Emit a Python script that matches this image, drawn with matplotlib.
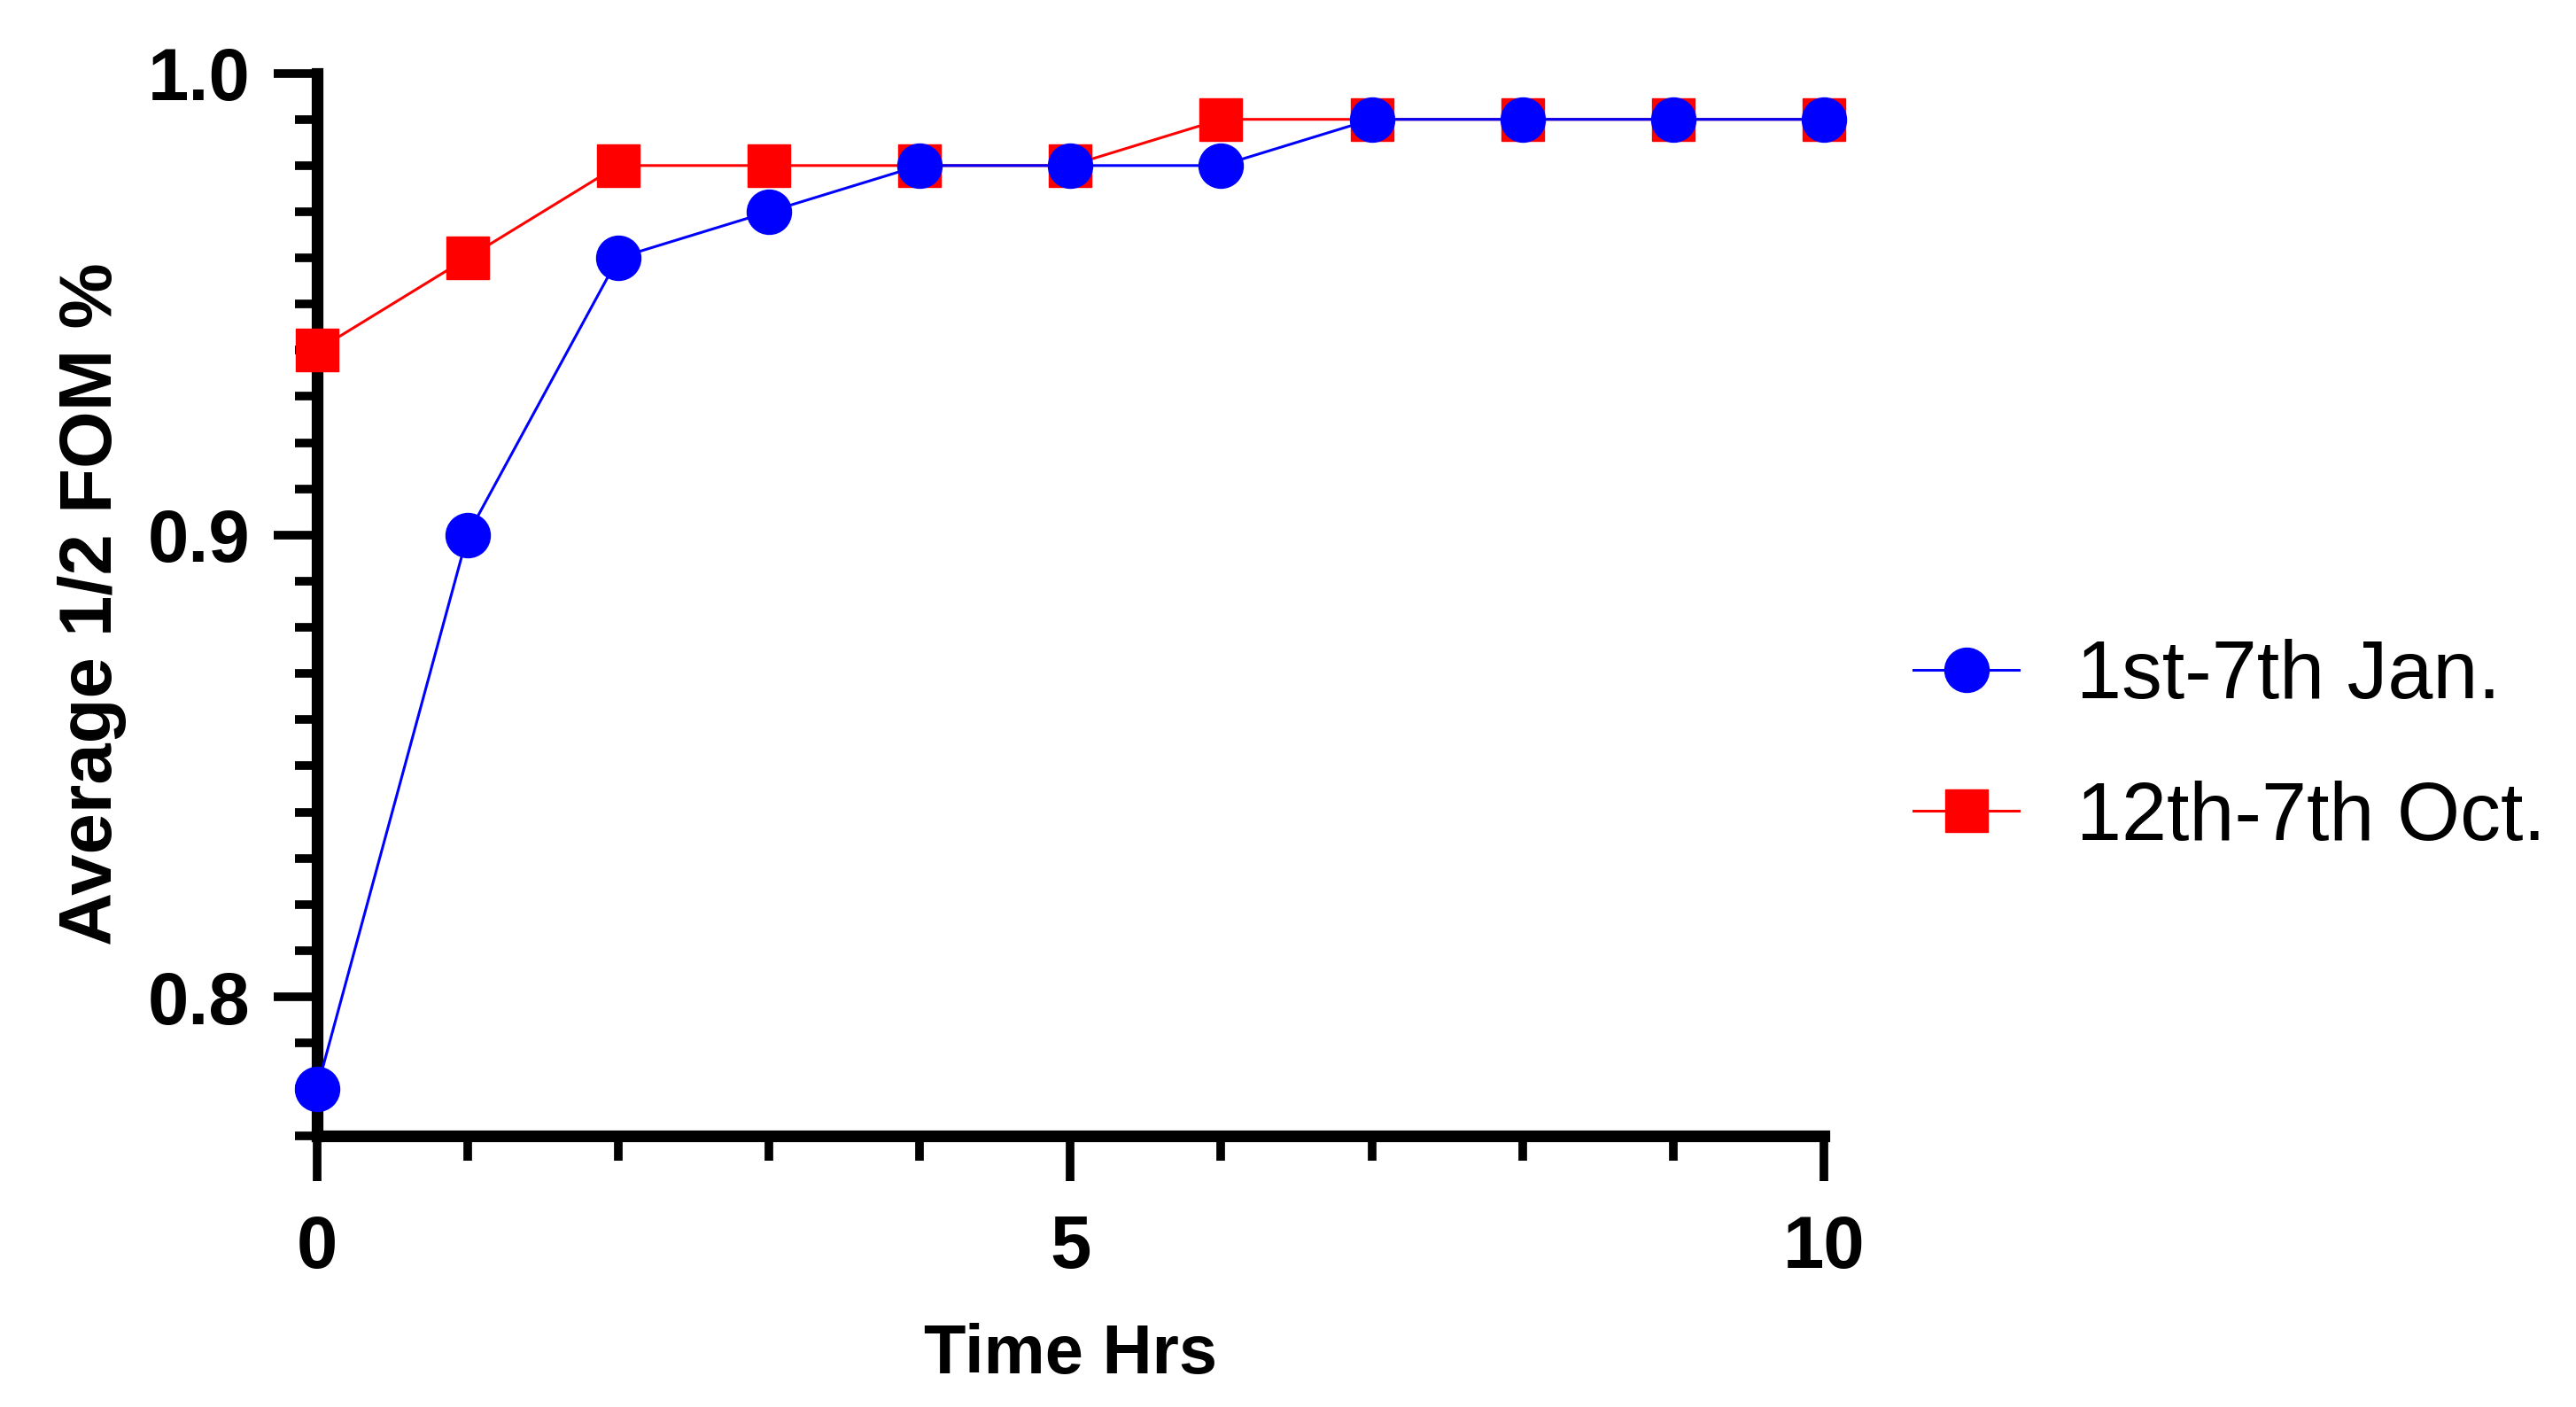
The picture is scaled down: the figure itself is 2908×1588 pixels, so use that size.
import matplotlib
matplotlib.use("Agg")
from matplotlib import pyplot as plt
from matplotlib.ticker import MultipleLocator, FormatStrFormatter

# data
hours = [0, 1, 2, 3, 4, 5, 6, 7, 8, 9, 10]
jan_fom = [0.78, 0.90, 0.96, 0.97, 0.98, 0.98, 0.98, 0.99, 0.99, 0.99, 0.99]
oct_fom = [0.94, 0.96, 0.98, 0.98, 0.98, 0.98, 0.99, 0.99, 0.99, 0.99, 0.99]
labels = ['1st-7th Jan.', '12th-7th Oct.']

plt.rcParams['font.family'] = ['Liberation Sans', 'DejaVu Sans']

fig = plt.figure(figsize=(29.08, 15.88), dpi=100)
ax = fig.add_axes([0.123, 0.193, 0.585, 0.755])

ax.plot(hours, oct_fom, color='#ff0000', lw=2.2, marker='s', ms=34,
        label=labels[1], zorder=3, clip_on=False)
ax.plot(hours, jan_fom, color='#0000ff', lw=2.2, marker='o', ms=36,
        label=labels[0], zorder=4, clip_on=False)

ax.set_xlim(0, 10)
ax.set_ylim(0.77, 1.0)
ax.xaxis.set_major_locator(MultipleLocator(5))
ax.xaxis.set_minor_locator(MultipleLocator(1))
ax.yaxis.set_major_locator(MultipleLocator(0.1))
ax.yaxis.set_minor_locator(MultipleLocator(0.01))
ax.yaxis.set_major_formatter(FormatStrFormatter('%.1f'))

for s in ['top', 'right']:
    ax.spines[s].set_visible(False)
for s in ['left', 'bottom']:
    ax.spines[s].set_linewidth(9.5)
    ax.spines[s].set_capstyle('projecting')

ax.tick_params(axis='x', which='major', length=37, width=7, pad=27, labelsize=60)
ax.tick_params(axis='x', which='minor', length=20, width=7)
ax.tick_params(axis='y', which='major', length=35, width=7, pad=19, labelsize=60)
ax.tick_params(axis='y', which='minor', length=18, width=7)
for t in ax.get_xticklabels() + ax.get_yticklabels():
    t.set_fontweight('bold')

ax.set_xlabel('Time Hrs', fontsize=56, fontweight='bold', labelpad=32)
ax.set_ylabel('Average 1/2 FOM %', fontsize=60, fontweight='bold', labelpad=17)

ax.legend(handles=ax.get_lines()[::-1], loc='center left', bbox_to_anchor=(1.038, 0.365),
          frameon=False, fontsize=66, handlelength=1.3, handletextpad=0.7,
          labelspacing=0.8, borderaxespad=0)

fig.savefig('out.png', dpi=100)
